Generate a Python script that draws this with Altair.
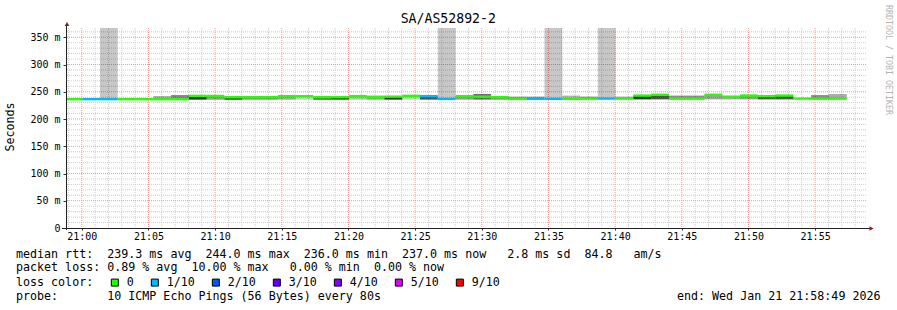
import altair as alt
import pandas as pd

# ---------------- data ----------------
DAY = "2026-01-21"
bin_start = [
    "20:58:42", "21:00:02", "21:01:22", "21:02:42", "21:04:02", "21:05:22", "21:06:42", "21:08:02",
    "21:09:22", "21:10:42", "21:12:02", "21:13:22", "21:14:42", "21:16:02", "21:17:22", "21:18:42",
    "21:20:02", "21:21:22", "21:22:42", "21:24:02", "21:25:22", "21:26:42", "21:28:02", "21:29:22",
    "21:30:42", "21:32:02", "21:33:22", "21:34:42", "21:36:02", "21:37:22", "21:38:42", "21:40:02",
    "21:41:22", "21:42:42", "21:44:02", "21:45:22", "21:46:42", "21:48:02", "21:49:22", "21:50:42",
    "21:52:02", "21:53:22", "21:54:42", "21:56:02",
]
median_rtt = [
    236.5, 236.5, 236.5, 236.5, 236.5, 236.5, 236.5, 242.5, 242.5, 240.0, 240.0, 240.0, 242.0, 242.0,
    240.0, 240.0, 242.0, 240.0, 241.0, 242.5, 242.0, 237.0, 242.0, 241.0, 240.0, 237.0, 237.0, 237.0,
    237.0, 237.5, 237.5, 237.5, 243.0, 244.5, 237.5, 237.5, 244.5, 241.0, 243.0, 242.0, 243.0, 237.5,
    237.5, 237.5,
]
loss = [
    "0", "1/10", "1/10", "0", "0", "0", "0", "0", "0", "0", "0", "0", "0", "0", "0", "0", "0", "0",
    "0", "0", "1/10", "1/10", "0", "0", "0", "0", "1/10", "1/10", "0", "0", "1/10", "0", "0", "0",
    "0", "0", "0", "0", "0", "0", "0", "0", "0", "0",
]
smoke_low = [
    235.5, 235.5, 236.5, 235.5, 235.5, 236.0, 236.0, 235.5, 235.5, 235.5, 235.5, 235.5, 235.5, 235.5,
    235.5, 235.5, 235.5, 235.5, 235.5, 235.5, 235.5, 237.0, 235.5, 235.5, 235.5, 236.0, 236.0, 237.0,
    236.0, 236.0, 237.5, 236.0, 236.0, 236.0, 236.0, 236.0, 236.0, 236.0, 236.0, 236.0, 236.0, 236.5,
    236.0, 236.0,
]
smoke_high = [
    237.5, 237.5, 367.0, 237.5, 237.5, 242.0, 244.0, 242.0, 242.0, 240.0, 240.0, 240.0, 242.0, 242.0,
    240.0, 240.0, 242.0, 243.0, 242.0, 242.0, 242.0, 367.0, 242.0, 246.0, 240.0, 241.0, 241.0, 367.0,
    243.0, 241.0, 367.0, 241.0, 243.0, 244.5, 243.0, 243.0, 244.5, 242.0, 243.0, 244.0, 243.0, 238.5,
    244.0, 246.0,
]
smoke_density = [
    0.30, 0.30, 0.10, 0.30, 0.30, 0.26, 0.45, 0.93, 0.36, 0.90, 0.45, 0.45, 0.30, 0.07, 0.74, 0.93,
    0.17, 0.36, 0.90, 0.07, 0.74, 0.10, 0.36, 0.60, 0.45, 0.40, 0.40, 0.10, 0.20, 0.45, 0.10, 0.30,
    0.93, 0.74, 0.40, 0.40, 0.30, 0.30, 0.36, 0.74, 0.74, 0.30, 0.40, 0.25,
]
STEP_SECONDS = 80

loss_labels = ["0", "1/10", "2/10", "3/10", "4/10", "5/10", "9/10"]
loss_colors = ["#26ff00", "#00b8ff", "#0059ff", "#5e00ff", "#7e00ff", "#dd00ff", "#ff0000"]

y_label_values = [0, 50, 100, 150, 200, 250, 300, 350]
x_label_minutes = [0, 5, 10, 15, 20, 25, 30, 35, 40, 45, 50, 55]

rtt_avg, rtt_max, rtt_min, rtt_now, rtt_sd, rtt_amps = 239.3, 244.0, 236.0, 237.0, 2.8, 84.8
loss_avg, loss_max, loss_min, loss_now = 0.89, 10.00, 0.00, 0.00
title_text = "SA/AS52892-2"
probe_text = "10 ICMP Echo Pings (56 Bytes) every 80s"
end_text = "end: Wed Jan 21 21:58:49 2026"

# ---------------- tables ----------------
t0 = pd.to_datetime([f"{DAY} {t}" for t in bin_start])
t1 = t0 + pd.Timedelta(seconds=STEP_SECONDS)
iso = lambda ts: ts.strftime("%Y-%m-%dT%H:%M:%SZ")
df = pd.DataFrame({
    "t0": [iso(t) for t in t0],
    "t1": [iso(t) for t in t1],
    "median": median_rtt,
    "loss": loss,
    "lo": smoke_low,
    "hi": smoke_high,
    "density": smoke_density,
})

minor_minutes = [(20 * 60 + 59 + m) for m in range(60)]
grid_v = pd.DataFrame({
    "t": [f"{DAY}T{mm // 60:02d}:{mm % 60:02d}:00Z" for mm in minor_minutes],
    "major": [mm % 5 == 0 for mm in minor_minutes],
})
grid_h = pd.DataFrame({"v": list(range(10, 361, 10))})
grid_h["major"] = grid_h["v"] % 50 == 0

MONO = "DejaVu Sans Mono"
nb = lambda s: s.replace(" ", "\u00a0")

def dt(h, m, s=0):
    return alt.DateTime(year=2026, month=1, date=21, hours=h, minutes=m, seconds=s, utc=True)

x_scale = alt.Scale(type="utc", domain=[dt(20, 58, 49), dt(21, 58, 49)])
y_scale = alt.Scale(domain=[0, 367], nice=False, zero=False)

W, H = 800, 200

x_axis = alt.Axis(
    values=[dt(21, m) for m in x_label_minutes], format="%H:%M", title=None,
    labelFont=MONO, labelFontSize=10, labelColor="black", tickSize=2, tickColor="#333",
    labelPadding=1, domain=False, grid=False,
)
y_axis = alt.Axis(
    values=y_label_values, labelExpr="datum.value == 0 ? '0' : datum.value + ' m'",
    labelFont=MONO, labelFontSize=10, labelColor="black", tickSize=3, tickColor="#333",
    labelPadding=3, domain=False, grid=False,
    title="Seconds", titleFont=MONO, titleFontSize=11.66, titleFontWeight="normal", titleColor="black",
    titleAngle=270, titleAlign="center", titleBaseline="middle", titleX=-55.5, titleY=98.5,
)

X = lambda f: alt.X(f, scale=x_scale, axis=x_axis)
Y = lambda f: alt.Y(f, scale=y_scale, axis=y_axis)

# ---------------- layers ----------------
MINOR = dict(color="#cdcdcd", strokeDash=[1, 1], strokeWidth=1)
MAJOR = dict(color="#f09a9a", strokeDash=[1, 1], strokeWidth=1)
gminor_h = alt.Chart(grid_h).transform_filter("!datum.major").mark_rule(**MINOR).encode(y=Y("v:Q"))
gminor_v = alt.Chart(grid_v).transform_filter("!datum.major").mark_rule(**MINOR).encode(x=X("t:T"))
gmajor_h = alt.Chart(grid_h).transform_filter("datum.major").mark_rule(**MAJOR).encode(y=Y("v:Q"))
gmajor_v = alt.Chart(grid_v).transform_filter("datum.major").mark_rule(**MAJOR).encode(x=X("t:T"))

smoke = alt.Chart(df).mark_rect(clip=True, color="black").encode(
    x=X("t0:T"),
    x2="t1:T",
    y=Y("lo:Q"),
    y2="hi:Q",
    opacity=alt.Opacity("density:Q", scale=alt.Scale(domain=[0, 1], range=[0.15, 0.85]), legend=None),
)

median = alt.Chart(df).transform_calculate(
    mlo="datum.median - 2.2", mhi="datum.median + 2.2"
).mark_rect(clip=True).encode(
    x=X("t0:T"),
    x2="t1:T",
    y=Y("mlo:Q"),
    y2="mhi:Q",
    color=alt.Color(
        "loss:N",
        scale=alt.Scale(domain=loss_labels, range=loss_colors),
        legend=alt.Legend(
            orient="none", legendX=43, legendY=248.5, direction="horizontal", title=None,
            symbolType="square", symbolSize=49, symbolStrokeColor="black", symbolStrokeWidth=1,
            symbolOpacity=1, labelFont=MONO, labelFontSize=11.66, labelColor="black",
            labelOffset=6, columnPadding=15, padding=0, offset=0,
        ),
    ),
)

one = alt.Data(values=[{"a": 1}])
y_line = alt.Chart(one).mark_rule(color="#222", strokeWidth=1).encode(
    x=alt.value(0.5), y=alt.value(-4), y2=alt.value(202))
x_line = alt.Chart(one).mark_rule(color="#222", strokeWidth=1).encode(
    x=alt.value(-4), x2=alt.value(805), y=alt.value(200.5))
arrow_up = alt.Chart(one).mark_point(shape="triangle-up", filled=True, size=22, color="#8b1a1a", opacity=1).encode(
    x=alt.value(1), y=alt.value(-4))
arrow_right = alt.Chart(one).mark_point(shape="triangle-right", filled=True, size=22, color="#8b1a1a", opacity=1).encode(
    x=alt.value(805.5), y=alt.value(200.5))

def label(text, x, y, align="left", size=11.66, color="black", angle=0):
    kw = dict(font=MONO, fontSize=size, color=color, align=align, baseline="middle")
    if angle:
        kw["angle"] = angle
    return alt.Chart(one).mark_text(**kw).encode(
        x=alt.value(x), y=alt.value(y), text=alt.value(nb(text)))

line1 = (f"median rtt:  {rtt_avg:.1f} ms avg  {rtt_max:.1f} ms max  {rtt_min:.1f} ms min  "
         f"{rtt_now:.1f} ms now   {rtt_sd:.1f} ms sd  {rtt_amps:.1f}   am/s")
line2 = (f"packet loss: {loss_avg:.2f} % avg  {loss_max:.2f} % max   {loss_min:.2f} % min  "
         f"{loss_now:.2f} % now")
line3 = "loss color:"
line4 = f"probe:       {probe_text}"

texts = [
    label(title_text, 382.3, -9, align="center", size=13.2),
    label("RRDTOOL / TOBI OETIKER", 822, 32, align="center", size=8.3, color="#b4b4b4", angle=90),
    label(line1, -50, 227),
    label(line2, -50, 240.3),
    label(line3, -50, 254.7),
    label(line4, -50, 268.7),
    label(end_text, 814.5, 268.7, align="right"),
]

chart = alt.layer(
    gminor_h, gminor_v, gmajor_h, gmajor_v, smoke, median, y_line, x_line, arrow_up, arrow_right, *texts
).properties(
    width=W, height=H,
    autosize=alt.AutoSizeParams(type="none"),
    padding={"left": 66, "top": 28, "right": 31, "bottom": 82},
    background="white",
).configure_view(strokeWidth=0)

chart.save("out.html", embed_options={"renderer": "svg", "actions": False})
